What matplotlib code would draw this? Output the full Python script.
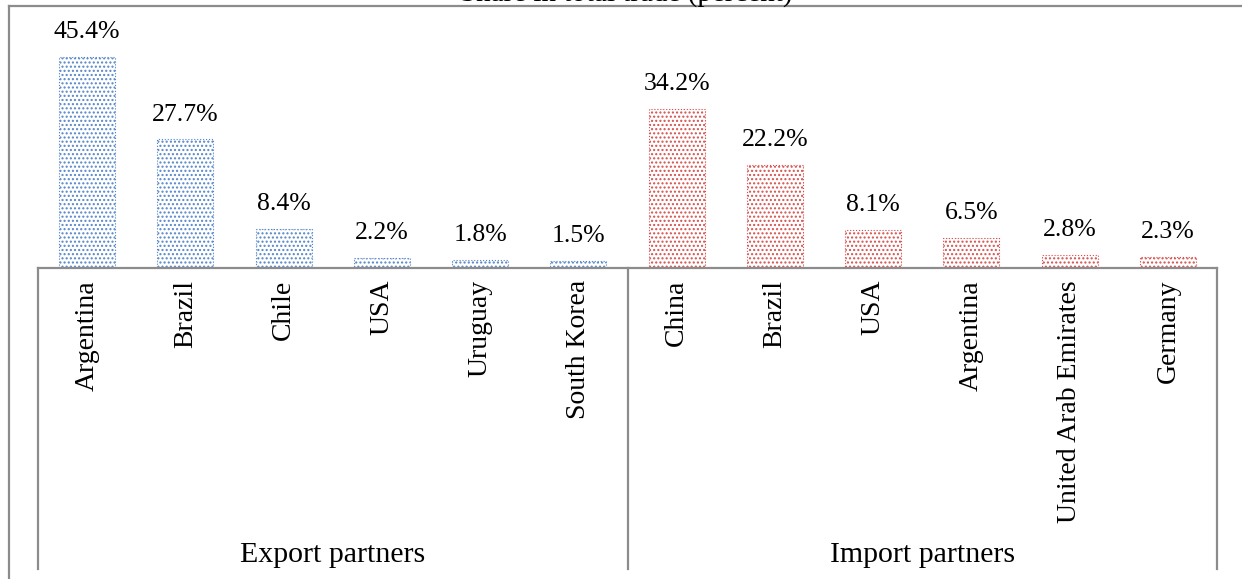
import matplotlib
matplotlib.use("Agg")
import matplotlib.pyplot as plt
from matplotlib.lines import Line2D

plt.rcParams['font.family'] = ['Liberation Serif', 'DejaVu Serif']
plt.rcParams['hatch.linewidth'] = 1.0

title = "Share in total trade (percent)"
groups = ["Export partners", "Import partners"]
export_partners = ["Argentina", "Brazil", "Chile", "USA", "Uruguay", "South Korea"]
export_values = [45.4, 27.7, 8.4, 2.2, 1.8, 1.5]
import_partners = ["China", "Brazil", "USA", "Argentina", "United Arab Emirates", "Germany"]
import_values = [34.2, 22.2, 8.1, 6.5, 2.8, 2.3]

blue = "#5585C8"
red = "#D4504D"
grey = "#8C8C8C"

W, H = 1242, 579
fig = plt.figure(figsize=(W / 100, H / 100), dpi=100)

x0, x1, ybase, ytop = 38, 1217, 268, 36
ax = fig.add_axes([x0 / W, 1 - ybase / H, (x1 - x0) / W, (ybase - ytop) / H])

labels = export_partners + import_partners
values = export_values + import_values
colors = [blue] * len(export_values) + [red] * len(import_values)
xs = list(range(len(labels)))

for x, v, c in zip(xs, values, colors):
    ax.bar(x, v, width=0.57, color="white", edgecolor=c, hatch="....",
           linewidth=0.8, linestyle=":")
    ax.text(x, v + 3.0, f"{v:.1f}%", ha="center", va="bottom", fontsize=18.5, color="black")

ax.set_xlim(-0.5, len(labels) - 0.5)
ax.set_ylim(0, 50)
ax.set_xticks([])
ax.set_yticks([])
for s in ["top", "left", "right"]:
    ax.spines[s].set_visible(False)
ax.spines["bottom"].set_color(grey)
ax.spines["bottom"].set_linewidth(1.6)

tr = ax.get_xaxis_transform()
ax_h = ybase - ytop
ybot = -(569 - ybase) / ax_h
for xb in [-0.5, len(export_values) - 0.5, len(labels) - 0.5]:
    ax.add_line(Line2D([xb, xb], [0, ybot], transform=tr, color=grey, lw=1.6, clip_on=False))

for x, lab in zip(xs, labels):
    ax.text(x, -12 / ax_h, lab, transform=tr, rotation=90, ha="center", va="top",
            fontsize=20, color="black")

n = len(export_values)
ax.text((n - 1) / 2, -(555 - ybase) / ax_h, groups[0], transform=tr, ha="center",
        va="center", fontsize=21.5)
ax.text(n + (len(import_values) - 1) / 2, -(555 - ybase) / ax_h, groups[1], transform=tr,
        ha="center", va="center", fontsize=21.5)

# outer chart frame
fig.add_artist(Line2D([9 / W, 9 / W], [0, 1 - 6 / H], transform=fig.transFigure, color=grey, lw=1.6))
fig.add_artist(Line2D([9 / W, 1], [1 - 6 / H, 1 - 6 / H], transform=fig.transFigure, color=grey, lw=1.6))

fig.text(626 / W, 1 - 0.5 / H, title, ha="center", va="baseline", fontsize=21)

fig.savefig("out.png", dpi=100)
